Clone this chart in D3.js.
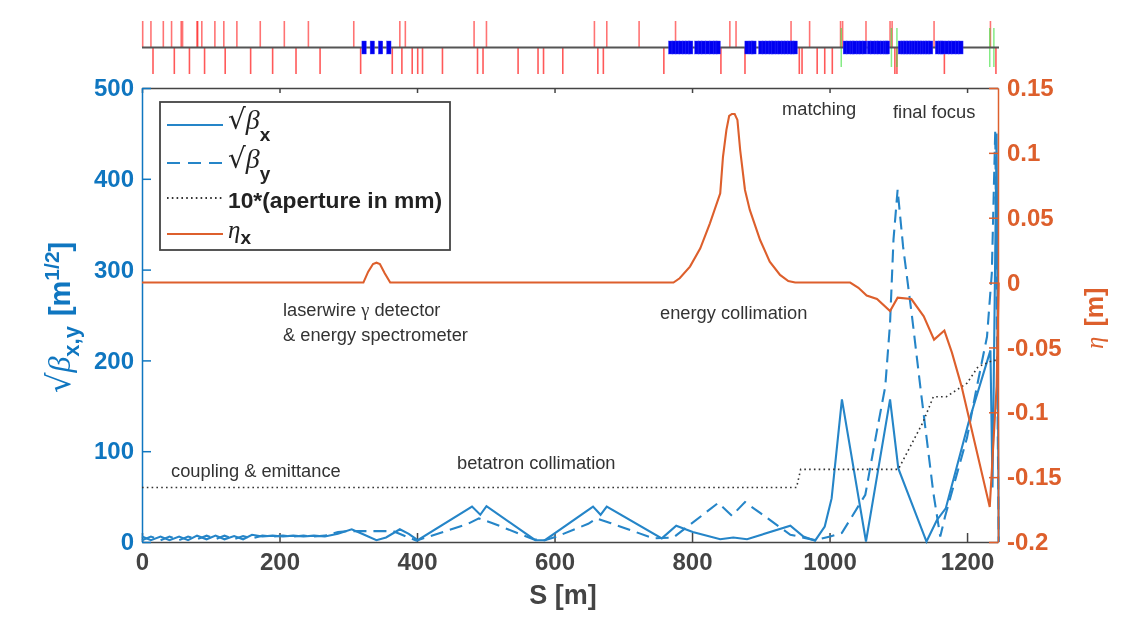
<!DOCTYPE html>
<html>
<head>
<meta charset="utf-8">
<script src="https://cdn.jsdelivr.net/npm/d3@7"></script>
<style>
body { margin: 0; background: #fff; }
svg { display: block; filter: blur(0.4px); }
text { font-family: "Liberation Sans", Arial, sans-serif; }
</style>
</head>
<body>
<div id="chart"></div>
<script>
// lattice elements, S position in m
const bendsTop = [1, 13, 31, 43, 57, 59, 80, 81, 87, 106, 119, 138, 172, 207, 242, 308, 375, 383, 483, 501, 658, 676, 723, 776, 855, 864, 944, 971, 1016, 1019, 1053, 1088, 1091, 1152, 1234];
const bendsBottom = [16, 47, 69, 91, 121, 158, 190, 224, 259, 318, 364, 378, 393, 401, 408, 437, 488, 496, 547, 576, 584, 612, 663, 671, 759, 842, 877, 956, 960, 982, 993, 1004, 1095, 1098, 1167, 1242];
const sextupoles = [1017, 1090, 1098, 1233, 1239];
const quads = [323, 335, 347, 359, 769, 774, 779, 784, 789, 794, 798, 807, 812, 817, 823, 829, 834, 838, 880, 886, 890, 900, 905, 910, 915, 919, 924, 928, 933, 937, 942, 946, 950, 1023, 1028, 1033, 1037, 1042, 1046, 1051, 1058, 1063, 1068, 1072, 1077, 1082, 1084, 1103, 1107, 1111, 1115, 1119, 1123, 1127, 1131, 1135, 1139, 1143, 1147, 1157, 1162, 1165, 1171, 1176, 1181, 1186, 1191];

// optics
const betaX = [[0, 6], [13, 2], [27, 6], [40, 2], [54, 6], [67, 2], [80, 7], [94, 3], [107, 7], [120, 3], [134, 6.5], [147, 3], [160, 8], [175, 6], [190, 7], [205, 6], [220, 7], [235, 6], [250, 7], [266, 6], [285, 9], [305, 14], [320, 9], [341, 2], [355, 5], [375, 14], [388, 9], [401, 2], [480, 39], [492, 30], [501, 39.5], [572, 2], [586, 2], [656, 39], [667, 30], [676, 39], [756, 4], [777, 18], [801, 11], [841, 3], [860, 5], [880, 3], [943, 18], [962, 6], [979, 1.5], [993, 17], [1003, 48], [1018, 157], [1053, 0.5], [1088, 157], [1100, 81], [1141, 0.5], [1156, 24], [1169, 37], [1202, 131], [1234, 211], [1237, 60], [1243, 450], [1246, 0]];
const betaY = [[0, 2], [13, 6], [27, 2], [40, 6], [54, 2], [67, 6], [80, 3], [94, 7], [107, 3], [120, 7], [134, 3], [147, 6.5], [160, 4], [175, 7], [190, 6], [205, 7], [220, 6], [235, 7], [250, 6], [266, 7], [285, 11], [300, 12], [365, 12], [378, 8], [399, 1.5], [474, 20], [490, 26], [509, 21], [569, 3], [586, 2], [603, 6], [649, 20], [661, 26], [681, 21], [744, 4], [773, 5], [838, 43], [858, 29], [877, 44], [899, 32], [943, 8], [979, 2], [1001, 6], [1018, 10], [1052, 52], [1069, 123], [1081, 171], [1088, 241], [1093, 333], [1099, 388], [1107, 325], [1120, 248], [1132, 171], [1151, 54], [1161, 6], [1168, 28], [1200, 115], [1214, 170], [1229, 226], [1236, 296], [1241, 453], [1246, 0]];
const aperture = [[0, 60], [952, 60], [958, 80], [1100, 80], [1136, 132], [1151, 160], [1170, 160], [1200, 175], [1216, 193], [1238, 200], [1245, 200]];
const etaX = [[0, 0], [322, 0], [329, 0.0084], [336, 0.0143], [341, 0.0153], [346, 0.0143], [353, 0.0072], [361, 0], [773, 0], [782, 0.0033], [797, 0.0123], [812, 0.0264], [826, 0.0457], [841, 0.0688], [845, 0.097], [850, 0.1177], [854, 0.1285], [858, 0.13], [862, 0.13], [866, 0.1254], [870, 0.1022], [877, 0.0714], [884, 0.056], [899, 0.0328], [913, 0.0161], [928, 0.0059], [940, 0.0012], [950, 0], [1030, 0], [1042, -0.004], [1054, -0.01], [1069, -0.0127], [1088, -0.022], [1099, -0.0116], [1119, -0.0127], [1137, -0.026], [1152, -0.044], [1167, -0.037], [1178, -0.054], [1192, -0.08], [1233, -0.173], [1243, -0.08], [1246, 0]];

const xTicks = [0, 200, 400, 600, 800, 1000, 1200];
const yTicks = [0, 100, 200, 300, 400, 500];
const etaTicks = [-0.2, -0.15, -0.1, -0.05, 0, 0.05, 0.1, 0.15];
const etaLabels = ["-0.2", "-0.15", "-0.1", "-0.05", "0", "0.05", "0.1", "0.15"];

const blue = "#0f76c0", lineBlue = "#2585c8", orange = "#dd5f2c", dark = "#444";

const svg = d3.select("#chart").append("svg").attr("width", 1136).attr("height", 631);

const x = d3.scaleLinear().domain([0, 1245]).range([142, 998]);
const y = d3.scaleLinear().domain([0, 500]).range([542, 88]);
const yEta = d3.scaleLinear().domain([-0.2, 0.15]).range([542, 88]);

// lattice strip
const lat = svg.append("g");
lat.selectAll(".top").data(bendsTop).enter().append("line")
  .attr("x1", d => x(d)).attr("x2", d => x(d)).attr("y1", 21).attr("y2", 47)
  .attr("stroke", "#f00").attr("stroke-opacity", 0.55).attr("stroke-width", 1.6);
lat.selectAll(".bot").data(bendsBottom).enter().append("line")
  .attr("x1", d => x(d)).attr("x2", d => x(d)).attr("y1", 47).attr("y2", 74)
  .attr("stroke", "#f00").attr("stroke-opacity", 0.65).attr("stroke-width", 1.6);
lat.selectAll(".sext").data(sextupoles).enter().append("line")
  .attr("x1", d => x(d)).attr("x2", d => x(d)).attr("y1", 28).attr("y2", 67)
  .attr("stroke", "#3d3").attr("stroke-opacity", 0.6).attr("stroke-width", 1.5);
lat.append("line").attr("x1", x(0)).attr("x2", 999).attr("y1", 47.5).attr("y2", 47.5)
  .attr("stroke", "#555").attr("stroke-width", 2.2);
lat.selectAll(".quad").data(quads).enter().append("rect")
  .attr("x", d => x(d) - 2.2).attr("y", 41).attr("width", 4.4).attr("height", 13)
  .attr("fill", "#0000f0").attr("stroke", "#3a3aff").attr("stroke-width", 0.4);

// axes
const fmt = sel => sel.selectAll("text").attr("font-size", 24).attr("font-weight", "bold")
  .style("font-family", '"Liberation Sans", Arial, sans-serif');

const xAxis = svg.append("g").attr("transform", "translate(0,542)")
  .call(d3.axisBottom(x).tickValues(xTicks).tickFormat(d3.format("d")).tickSizeInner(-9).tickSizeOuter(0).tickPadding(11));
xAxis.call(fmt);
xAxis.selectAll("line,path").attr("stroke", dark).attr("stroke-width", 1.5);
xAxis.selectAll("text").attr("fill", dark);

const topAxis = svg.append("g").attr("transform", "translate(0,88)")
  .call(d3.axisTop(x).tickValues(xTicks).tickFormat("").tickSizeInner(-5).tickSizeOuter(0));
topAxis.selectAll("line,path").attr("stroke", dark).attr("stroke-width", 1.5);

const yAxis = svg.append("g").attr("transform", "translate(142,0)")
  .call(d3.axisLeft(y).tickValues(yTicks).tickSizeInner(-9).tickSizeOuter(0).tickPadding(8));
yAxis.call(fmt);
yAxis.selectAll("line,path").attr("stroke", blue).attr("stroke-width", 1.5);
yAxis.selectAll("text").attr("fill", blue);

// lines
const line = (sy) => d3.line().x(d => x(d[0])).y(d => sy(d[1]));
const plot = svg.append("g").attr("fill", "none");
plot.append("path").attr("d", line(y)(betaX)).attr("stroke", lineBlue).attr("stroke-width", 2.1);
plot.append("path").attr("d", line(y)(betaY)).attr("stroke", lineBlue).attr("stroke-width", 2.1).attr("stroke-dasharray", "13,7");
plot.append("path").attr("d", line(y)(aperture)).attr("stroke", "#333").attr("stroke-width", 1.6).attr("stroke-dasharray", "1.6,3.2");
plot.append("path").attr("d", line(yEta)(etaX)).attr("stroke", orange).attr("stroke-width", 2.1);

const rAxis = svg.append("g").attr("transform", "translate(998,0)")
  .call(d3.axisRight(yEta).tickValues(etaTicks).tickFormat((d, i) => etaLabels[i]).tickSizeInner(-9).tickSizeOuter(0).tickPadding(9));
rAxis.call(fmt);
rAxis.selectAll("line,path").attr("stroke", orange).attr("stroke-width", 1.5);
rAxis.selectAll("text").attr("fill", orange);

// axis titles
svg.append("text").attr("x", 563).attr("y", 604).attr("text-anchor", "middle")
  .attr("font-size", 27).attr("font-weight", "bold").attr("fill", dark).text("S [m]");

const serif = '"Liberation Serif", "Times New Roman", serif';
const yTitle = svg.append("text").attr("transform", "translate(70,393) rotate(-90)").attr("fill", blue);
yTitle.append("tspan").attr("font-size", 32).style("font-family", "DejaVu Sans").text("√");
yTitle.append("tspan").attr("font-size", 32).attr("font-style", "italic").style("font-family", serif).text("β");
yTitle.append("tspan").attr("font-size", 22).attr("font-weight", "bold").attr("dy", 9).text("x,y");
yTitle.append("tspan").attr("font-size", 29).attr("font-weight", "bold").attr("dy", -9).attr("dx", 10).text("[m");
yTitle.append("tspan").attr("font-size", 21).attr("font-weight", "bold").attr("dy", -11).text("1/2");
yTitle.append("tspan").attr("font-size", 29).attr("font-weight", "bold").attr("dy", 11).text("]");

const rTitle = svg.append("text").attr("transform", "translate(1103,349) rotate(-90)").attr("fill", orange);
rTitle.append("tspan").attr("font-size", 25).attr("font-style", "italic").style("font-family", serif).text("η");
rTitle.append("tspan").attr("font-size", 25).attr("font-weight", "bold").attr("dx", 10).text("[m]");

// annotations
const notes = [
  ["matching", 782, 115], ["final focus", 893, 118],
  ["laserwire γ detector", 283, 316], ["& energy spectrometer", 283, 341],
  ["energy collimation", 660, 319], ["coupling & emittance", 171, 477],
  ["betatron collimation", 457, 469]
];
svg.selectAll(".note").data(notes).enter().append("text")
  .attr("x", d => d[1]).attr("y", d => d[2])
  .attr("font-size", 18.3).attr("fill", "#333")
  .html(d => d[0].replace("γ", `<tspan style="font-family:'Liberation Serif'">γ</tspan>`));

// legend
svg.append("rect").attr("x", 160).attr("y", 102).attr("width", 290).attr("height", 148)
  .attr("fill", "#fff").attr("stroke", dark).attr("stroke-width", 1.8);
const legendLines = [
  [125, lineBlue, null], [163, lineBlue, "13,8"], [198, "#333", "1.6,3.2"], [234, orange, null]
];
svg.selectAll(".leg").data(legendLines).enter().append("line")
  .attr("x1", 167).attr("x2", 223).attr("y1", d => d[0]).attr("y2", d => d[0])
  .attr("stroke", d => d[1]).attr("stroke-width", 1.8).attr("stroke-dasharray", d => d[2]);

function sqrtBeta(yy, sub) {
  const t = svg.append("text").attr("x", 228).attr("y", yy).attr("fill", "#222");
  t.append("tspan").attr("font-size", 28).style("font-family", "DejaVu Sans").text("√");
  t.append("tspan").attr("font-size", 28).attr("font-style", "italic").style("font-family", serif).text("β");
  t.append("tspan").attr("font-size", 19).attr("font-weight", "bold").attr("dy", 12).text(sub);
}
sqrtBeta(129, "x");
sqrtBeta(168, "y");
svg.append("text").attr("x", 228).attr("y", 208).attr("font-size", 22.8).attr("font-weight", "bold").attr("fill", "#222").text("10*(aperture in mm)");
const etaLeg = svg.append("text").attr("x", 228).attr("y", 238).attr("fill", "#222");
etaLeg.append("tspan").attr("font-size", 25).attr("font-style", "italic").style("font-family", serif).text("η");
etaLeg.append("tspan").attr("font-size", 19).attr("font-weight", "bold").attr("dy", 6).text("x");
</script>
</body>
</html>
